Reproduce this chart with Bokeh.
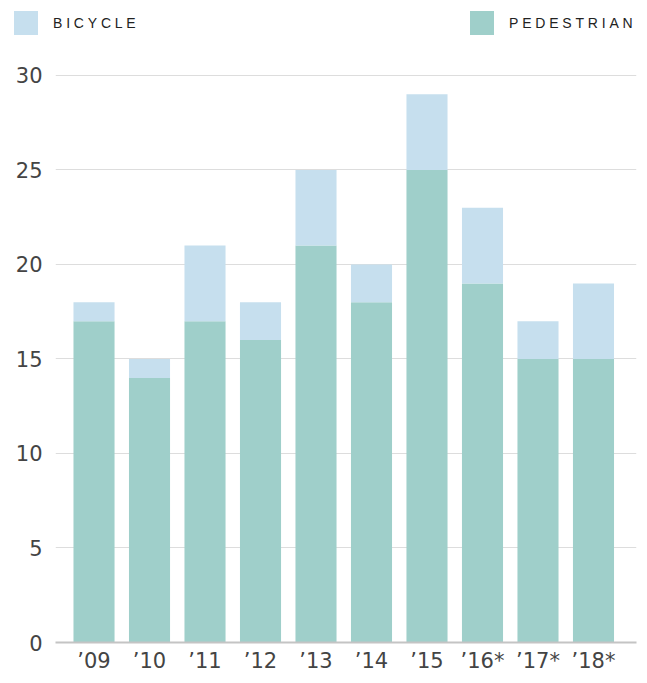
from bokeh.plotting import figure
from bokeh.layouts import column
from bokeh.models import ColumnDataSource, Range1d, FixedTicker, Div
from bokeh.embed import file_html
from bokeh.resources import INLINE

# ---- data ----
years = ["\u201909", "\u201910", "\u201911", "\u201912", "\u201913",
         "\u201914", "\u201915", "\u201916*", "\u201917*", "\u201918*"]
pedestrian = [17, 14, 17, 16, 21, 18, 25, 19, 15, 15]
bicycle = [1, 1, 4, 2, 4, 2, 4, 4, 2, 4]
y_ticks = [0, 5, 10, 15, 20, 25, 30]
series_labels = ["BICYCLE", "PEDESTRIAN"]

PED = "#9fcfca"
BIKE = "#c6dfee"

xs = list(range(len(years)))
source = ColumnDataSource(dict(x=xs, pedestrian=pedestrian, bicycle=bicycle))

# ---- main chart ----
p = figure(width=639, height=635, output_backend="svg", toolbar_location=None,
           x_range=Range1d(-0.694, 9.775), y_range=Range1d(0, 31.85),
           min_border_left=55, min_border_right=3, min_border_top=0,
           min_border_bottom=29)
p.outline_line_color = None
p.background_fill_color = "white"
p.border_fill_color = "white"

r = p.vbar_stack(["pedestrian", "bicycle"], x="x", width=0.74, source=source,
                 fill_color=[PED, BIKE], line_color=[PED, BIKE], line_width=0)

p.xaxis.ticker = FixedTicker(ticks=xs)
p.xaxis.major_label_overrides = {i: y for i, y in enumerate(years)}
p.xaxis.major_tick_line_color = None
p.xaxis.minor_tick_line_color = None
p.xaxis.major_tick_out = 0
p.xaxis.axis_line_color = "#c4c4c4"
p.xaxis.axis_line_width = 2
p.xaxis.major_label_standoff = 6
p.xaxis.major_label_text_font = "DejaVu Sans"
p.xaxis.major_label_text_font_size = "21px"
p.xaxis.major_label_text_color = "#444444"

p.yaxis.ticker = FixedTicker(ticks=y_ticks)
p.yaxis.major_tick_line_color = None
p.yaxis.minor_tick_line_color = None
p.yaxis.major_tick_out = 0
p.yaxis.axis_line_color = None
p.yaxis.major_label_standoff = 13
p.yaxis.major_label_text_font = "DejaVu Sans"
p.yaxis.major_label_text_font_size = "21px"
p.yaxis.major_label_text_color = "#444444"

p.xgrid.visible = False
p.ygrid.ticker = FixedTicker(ticks=y_ticks)
p.ygrid.grid_line_color = "#dddddd"
p.ygrid.grid_line_width = 1

# ---- legend strip (HTML so letter-spacing can match) ----
def item(color, label, left_sq, left_txt):
    return (f'<span style="position:absolute;left:{left_sq}px;top:11px;width:24px;'
            f'height:24px;background:{color};"></span>'
            f'<span style="position:absolute;left:{left_txt}px;top:11px;line-height:24px;'
            f'white-space:nowrap;">{label}</span>')

legend_html = (
    '<div style="position:relative;width:639px;height:40px;'
    'font-family:\'Liberation Sans\',Arial,sans-serif;font-size:14px;'
    'letter-spacing:3.8px;color:#222222;">'
    + item(BIKE, series_labels[0], 14, 53)
    + item(PED, series_labels[1], 470, 509)
    + '</div>'
)
legend_div = Div(text=legend_html, width=639, height=40, margin=0)

layout = column(legend_div, p, spacing=0)
open("out.html", "w").write(file_html(layout, INLINE))
